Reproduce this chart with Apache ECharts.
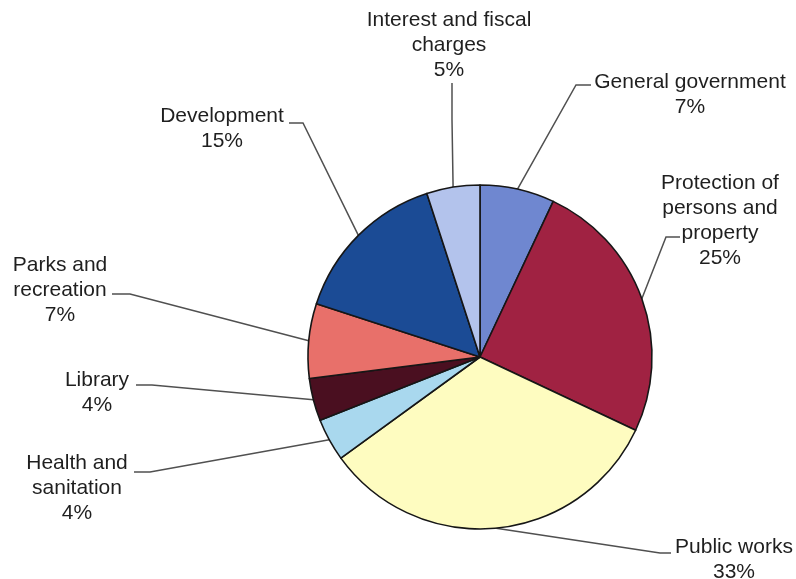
<!DOCTYPE html>
<html>
<head>
<meta charset="utf-8">
<script src="https://cdn.jsdelivr.net/npm/echarts@6/dist/echarts.min.js"></script>
<style>
  html, body { margin: 0; padding: 0; background: #ffffff; }
  #chart { width: 796px; height: 579px; }
</style>
</head>
<body>
<div id="chart"></div>
<script>
// Spending shares by function, clockwise from 12 o'clock
const categories = [
  'General government',
  'Protection of\npersons and\nproperty',
  'Public works',
  'Health and\nsanitation',
  'Library',
  'Parks and\nrecreation',
  'Development',
  'Interest and fiscal\ncharges'
];
const shares = [7, 25, 33, 4, 4, 7, 15, 5];
const sliceColors = ['#6f87d0', '#a02242', '#fefcc0', '#a9d8ee', '#4a0f20', '#e8706a', '#1b4b95', '#b3c3ec'];

// Where each label block sits (centre of text) and how its leader line bends
const labelCentres = [
  [690, 95], [720, 221], [734, 560], [77, 488],
  [97, 393], [60, 290], [222, 129], [449, 45]
];
const leaderBends = [
  [[576, 85], [591, 85]],
  [[666, 237], [680, 237]],
  [[660, 553], [671, 553]],
  [[150, 472], [134, 472]],
  [[152, 385], [136, 385]],
  [[130, 294], [112, 294]],
  [[303, 123], [289, 123]],
  [[452, 120], [452, 83]]
];

const chart = echarts.init(document.getElementById('chart'), null, { renderer: 'canvas' });

chart.setOption({
  animation: false,
  backgroundColor: '#ffffff',
  series: [{
    type: 'pie',
    center: [480, 357],
    radius: 172,
    startAngle: 90,
    clockwise: true,
    avoidLabelOverlap: false,
    silent: true,
    data: categories.map((name, i) => ({
      name: name,
      value: shares[i],
      itemStyle: { color: sliceColors[i] }
    })),
    itemStyle: { borderColor: '#161616', borderWidth: 1.6 },
    label: {
      show: true,
      position: 'outside',
      formatter: '{b}\n{c}%',
      fontFamily: 'Liberation Sans, Arial, sans-serif',
      fontSize: 21,
      lineHeight: 25,
      color: '#1f1f1f',
      align: 'center'
    },
    labelLine: {
      show: true,
      length: 20,
      length2: 10,
      lineStyle: { color: '#505050', width: 1.5 }
    },
    labelLayout: function (params) {
      const i = params.dataIndex;
      const out = {
        x: labelCentres[i][0],
        y: labelCentres[i][1],
        align: 'center',
        verticalAlign: 'middle'
      };
      if (params.labelLinePoints && params.labelLinePoints[0]) {
        const start = params.labelLinePoints[0];
        out.labelLinePoints = [[start[0], start[1]], leaderBends[i][0], leaderBends[i][1]];
      }
      return out;
    },
    emphasis: { disabled: true }
  }]
});
</script>
</body>
</html>
